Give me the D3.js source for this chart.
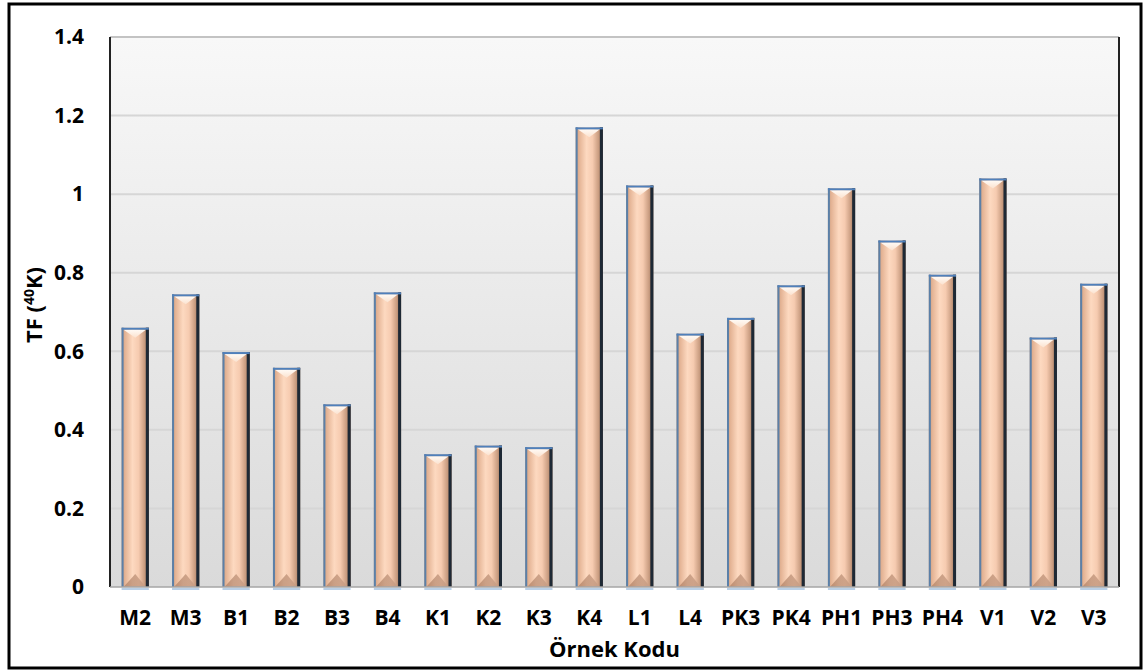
<!DOCTYPE html>
<html>
<head>
<meta charset="utf-8">
<script src="https://cdn.jsdelivr.net/npm/d3@7"></script>
<style>
html,body{margin:0;padding:0;background:#fff;}
text{font-family:"Open Sans",Lato,sans-serif;font-weight:bold;fill:#000;}
</style>
</head>
<body>
<svg id="chart" width="1144" height="672"></svg>
<script>
const categories = ["M2","M3","B1","B2","B3","B4","K1","K2","K3","K4","L1","L4","PK3","PK4","PH1","PH3","PH4","V1","V2","V3"];
const values = [0.66,0.745,0.598,0.558,0.465,0.75,0.338,0.36,0.356,1.17,1.022,0.645,0.685,0.768,1.015,0.882,0.795,1.04,0.635,0.772];
const yTicks = [0,0.2,0.4,0.6,0.8,1,1.2,1.4];
const yTickLabels = ["0","0.2","0.4","0.6","0.8","1","1.2","1.4"];

const svg = d3.select("#chart");
const m = {left:110, right:1119, top:37, bottom:587};

const defs = svg.append("defs");
const bg = defs.append("linearGradient").attr("id","bg").attr("x1",0).attr("y1",0).attr("x2",0).attr("y2",1);
bg.append("stop").attr("offset","0%").attr("stop-color","#f8f8f8");
bg.append("stop").attr("offset","100%").attr("stop-color","#dadada");
const bar = defs.append("linearGradient").attr("id","barg").attr("x1",0).attr("y1",0).attr("x2",1).attr("y2",0);
[[0,"#c49a80"],[0.12,"#e3b293"],[0.4,"#fdd9c0"],[0.62,"#f6cbb0"],[0.85,"#c79a7e"],[1,"#7a5a48"]].forEach(([o,c])=>bar.append("stop").attr("offset",o).attr("stop-color",c));
const topb = defs.append("linearGradient").attr("id","topg").attr("x1",0).attr("y1",0).attr("x2",0).attr("y2",1);
topb.append("stop").attr("offset","0%").attr("stop-color","#fffaf5");
topb.append("stop").attr("offset","100%").attr("stop-color","#fbe2cf");
const botb = defs.append("linearGradient").attr("id","botg").attr("x1",0).attr("y1",0).attr("x2",1).attr("y2",0);
botb.append("stop").attr("offset","0%").attr("stop-color","#b08064");
botb.append("stop").attr("offset","100%").attr("stop-color","#c9a088");

// outer border
svg.append("rect").attr("x",9).attr("y",4).attr("width",1132).attr("height",664)
  .attr("fill","#fff").attr("stroke","#000").attr("stroke-width",3);

const x = d3.scaleBand().domain(categories).range([m.left,m.right]).paddingInner(0.46).paddingOuter(0.23);
const y = d3.scaleLinear().domain([0,1.4]).range([m.bottom,m.top]);

// plot background
svg.append("rect").attr("x",m.left).attr("y",m.top).attr("width",m.right-m.left).attr("height",m.bottom-m.top).attr("fill","url(#bg)");

// gridlines
svg.append("g").selectAll("line").data(yTicks.filter(d=>d>0)).join("line")
  .attr("x1",m.left).attr("x2",m.right).attr("y1",d=>y(d)).attr("y2",d=>y(d))
  .attr("stroke","#d6d6d6").attr("stroke-width",2);

// plot borders
svg.append("line").attr("x1",m.left).attr("x2",m.right).attr("y1",m.top).attr("y2",m.top).attr("stroke","#bdbdbd").attr("stroke-width",1.5);
svg.append("line").attr("x1",m.left).attr("x2",m.left).attr("y1",m.top).attr("y2",m.bottom).attr("stroke","#222").attr("stroke-width",2);
svg.append("line").attr("x1",m.right).attr("x2",m.right).attr("y1",m.top).attr("y2",m.bottom).attr("stroke","#222").attr("stroke-width",2);

// bars
const bw = x.bandwidth();
const g = svg.append("g").selectAll("g").data(categories.map((c,i)=>({c,v:values[i]}))).join("g");
g.append("rect").attr("x",d=>x(d.c)).attr("y",d=>y(d.v)).attr("width",bw).attr("height",d=>y(0)-y(d.v)).attr("fill","url(#barg)");
g.append("polygon").attr("points",d=>{const x0=x(d.c),t=y(d.v);return `${x0+2},${t+2} ${x0+bw-3},${t+2} ${x0+bw/2},${t+10}`;}).attr("fill","url(#topg)");
g.append("polygon").attr("points",d=>{const x0=x(d.c),b=y(0);return `${x0+2},${b} ${x0+bw-3},${b} ${x0+bw/2},${b-13}`;}).attr("fill","url(#botg)").attr("opacity",0.75);
g.append("rect").attr("x",d=>x(d.c)).attr("y",d=>y(d.v)).attr("width",2).attr("height",d=>y(0)-y(d.v)).attr("fill","#5b80a8");
g.append("rect").attr("x",d=>x(d.c)+bw-3).attr("y",d=>y(d.v)).attr("width",3).attr("height",d=>y(0)-y(d.v)).attr("fill","#1e2935");
g.append("rect").attr("x",d=>x(d.c)).attr("y",d=>y(d.v)).attr("width",bw).attr("height",2).attr("fill","#4f80bb");
g.append("rect").attr("x",d=>x(d.c)).attr("y",y(0)+1).attr("width",bw).attr("height",2).attr("fill","#b9cfe6");

// x axis line
svg.append("line").attr("x1",m.left).attr("x2",m.right).attr("y1",y(0)).attr("y2",y(0)).attr("stroke","#a6a6a6").attr("stroke-width",1.5);

// y axis
const yAxis = d3.axisLeft(y).tickValues(yTicks).tickFormat((d,i)=>yTickLabels[i]).tickSize(0).tickPadding(26);
const ya = svg.append("g").attr("transform",`translate(${m.left},0)`).call(yAxis);
ya.select(".domain").remove();
ya.selectAll("text").attr("font-size",21).style("font-family","'Open Sans'").style("font-weight","bold").attr("fill","#000");

// x axis
const xAxis = d3.axisBottom(x).tickSize(0).tickPadding(23);
const xa = svg.append("g").attr("transform",`translate(0,${m.bottom})`).call(xAxis);
xa.select(".domain").remove();
xa.selectAll("text").attr("font-size",21).style("font-family","'Open Sans'").style("font-weight","bold").attr("fill","#000");

// titles
svg.append("text").attr("x",(m.left+m.right)/2).attr("y",657).attr("text-anchor","middle").attr("font-size",22).text("Örnek Kodu");
const yt = svg.append("text").attr("transform","translate(42,305) rotate(-90)").attr("text-anchor","middle").attr("font-size",22);
yt.append("tspan").text("TF (");
yt.append("tspan").attr("font-size",14).attr("dy",-8).text("40");
yt.append("tspan").attr("dy",8).text("K)");
</script>
</body>
</html>
